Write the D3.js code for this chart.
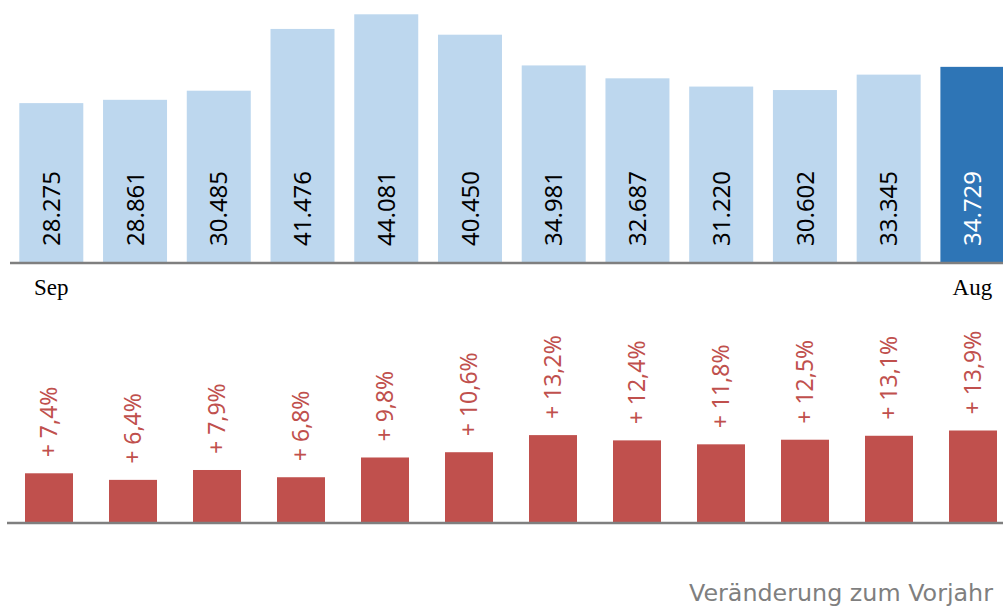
<!DOCTYPE html>
<html>
<head>
<meta charset="utf-8">
<script src="https://cdn.jsdelivr.net/npm/d3@7"></script>
<style>
  html, body { margin: 0; padding: 0; background: #fff; }
  svg { display: block; }
</style>
</head>
<body>
<div id="chart"></div>
<script>
// Daten: Monatswerte und Veränderung zum Vorjahr
const monate = ["Sep", "Okt", "Nov", "Dez", "Jan", "Feb", "Mär", "Apr", "Mai", "Jun", "Jul", "Aug"];
const werte = [28275, 28861, 30485, 41476, 44081, 40450, 34981, 32687, 31220, 30602, 33345, 34729];
const veraenderung = [7.4, 6.4, 7.9, 6.8, 9.8, 10.6, 13.2, 12.4, 11.8, 12.5, 13.1, 13.9];
const achsenMonate = ["Sep", "Aug"];

const width = 1003, height = 606;

const de = d3.formatLocale({ decimal: ",", thousands: ".", grouping: [3], currency: ["", " €"] });
const fmtWert = de.format(",d");
const fmtProz = de.format(".1f");

const svg = d3.select("#chart").append("svg")
    .attr("width", width)
    .attr("height", height);

// oberes Diagramm
const topBase = 262;
const x = d3.scaleBand()
    .domain(monate)
    .range([19.3, 1004.4])
    .paddingInner(0.2357)
    .paddingOuter(0);

const y = d3.scaleLinear()
    .domain([0, 44081])
    .range([topBase, 14.3]);

svg.append("g")
  .selectAll("rect")
  .data(werte)
  .join("rect")
    .attr("x", (d, i) => x(monate[i]))
    .attr("y", d => y(d))
    .attr("width", x.bandwidth())
    .attr("height", d => topBase - y(d))
    .attr("fill", (d, i) => i == werte.length - 1 ? "#2e75b6" : "#bdd7ee");

svg.append("g")
  .selectAll("text")
  .data(werte)
  .join("text")
    .attr("transform", (d, i) => "translate(" + (x(monate[i]) + x.bandwidth() / 2) + "," + 246 + ") rotate(-90)")
    .attr("dy", "0.36em")
    .attr("font-family", "'Noto Sans', sans-serif")
    .attr("font-size", "24px")
    .attr("fill", (d, i) => i == werte.length - 1 ? "#ffffff" : "#000000")
    .text(d => fmtWert(d));

svg.append("line")
    .attr("x1", 10).attr("x2", width)
    .attr("y1", topBase + 1).attr("y2", topBase + 1)
    .attr("stroke", "#7f7f7f")
    .attr("stroke-width", 2.5);

const axeX = d3.axisBottom(x)
    .tickValues(achsenMonate)
    .tickSize(0)
    .tickPadding(0);

const gAxe = svg.append("g")
    .attr("transform", "translate(0," + topBase + ")")
    .call(axeX);
gAxe.select(".domain").remove();
gAxe.selectAll("text")
    .attr("y", 33)
    .attr("dy", 0)
    .attr("font-family", "'Liberation Serif', serif")
    .attr("font-size", "23px")
    .attr("fill", "#000");

// unteres Diagramm
const botBase = 522;
const x2 = d3.scaleBand()
    .domain(monate)
    .range([25, 997])
    .paddingInner(0.4286)
    .paddingOuter(0);

const y2 = d3.scaleLinear()
    .domain([0, 13.9])
    .range([botBase, 430.5]);

svg.append("g")
  .selectAll("rect")
  .data(veraenderung)
  .join("rect")
    .attr("x", (d, i) => x2(monate[i]))
    .attr("y", d => y2(d))
    .attr("width", x2.bandwidth())
    .attr("height", d => botBase - y2(d))
    .attr("fill", "#c0504d");

svg.append("g")
  .selectAll("text")
  .data(veraenderung)
  .join("text")
    .attr("transform", (d, i) => "translate(" + (x2(monate[i]) + x2.bandwidth() / 2) + "," + (y2(d) - 16) + ") rotate(-90)")
    .attr("dy", "0.36em")
    .attr("font-family", "'Noto Sans', sans-serif")
    .attr("font-size", "23px")
    .attr("fill", "#c0504d")
    .text(d => "+ " + fmtProz(d) + "%");

svg.append("line")
    .attr("x1", 7).attr("x2", width)
    .attr("y1", botBase + 1).attr("y2", botBase + 1)
    .attr("stroke", "#7f7f7f")
    .attr("stroke-width", 2.5);

svg.append("text")
    .attr("x", 993)
    .attr("y", 601)
    .attr("text-anchor", "end")
    .attr("font-family", "'DejaVu Sans', sans-serif")
    .attr("font-size", "23.8px")
    .attr("fill", "#7f7f7f")
    .text("Veränderung zum Vorjahr");
</script>
</body>
</html>
